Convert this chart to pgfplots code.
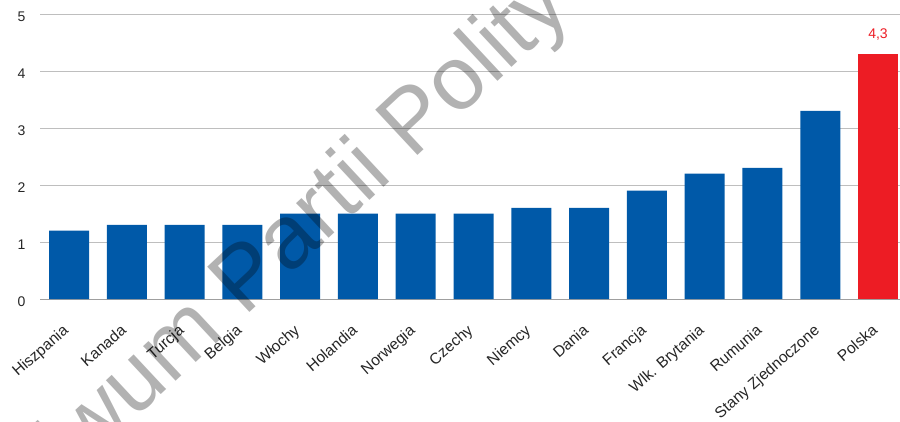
\documentclass[border=0pt]{standalone}
\usepackage{fontspec}
\setmainfont{Liberation Sans}
\usepackage{pgfplots}
\pgfplotsset{compat=1.18}
\definecolor{barblue}{RGB}{0,89,168}
\definecolor{barred}{RGB}{237,28,36}
\definecolor{gridgray}{RGB}{190,190,190}
\pgfplotsset{
  layers/mylayers/.define layer set={axis background,axis grid,axis ticks,axis lines,pre main,main,axis tick labels,axis descriptions,axis foreground}{},
}
\begin{document}
\begin{tikzpicture}
\begin{axis}[
  name=ax,
  set layers=mylayers,
  scale only axis,
  width=860bp, height=285bp,
  xmin=-0.502, xmax=14.38,
  ymin=0, ymax=5,
  clip=false,
  ybar, bar shift=0pt, bar width=0.692,
  axis x line*=bottom,
  axis y line*=left,
  x axis line style={draw=gray!75, line width=1bp, -},
  y axis line style={draw=none},
  major tick length=0pt,
  xtick={0,...,14},
  xticklabels={Hiszpania,Kanada,Turcja,Belgia,Włochy,Holandia,Norwegia,Czechy,Niemcy,Dania,Francja,Wlk. Brytania,Rumunia,Stany Zjednoczone,Polska},
  x tick label style={xshift=-7bp, yshift=-23bp, rotate=41, anchor=north east, font=\fontsize{15.5bp}{18bp}\selectfont, inner sep=1bp, fill=white, text=black!85},
  ytick={0,1,2,3,4,5},
  y tick label style={font=\fontsize{14bp}{16bp}\selectfont, text=black!85, xshift=-11bp, yshift=-3bp},
  /pgf/number format/assume math mode=true,
  ymajorgrids,
  grid style={draw=gridgray, line width=1bp},
]
\addplot[fill=barblue, draw=none] coordinates {
  (0,1.2) (1,1.3) (2,1.3) (3,1.3) (4,1.5) (5,1.5) (6,1.5) (7,1.5)
  (8,1.6) (9,1.6) (10,1.9) (11,2.2) (12,2.3) (13,3.3)
};
\addplot[fill=barred, draw=none] coordinates {(14,4.3)};
\node[anchor=base, text=barred, font=\fontsize{14bp}{16bp}\selectfont, yshift=15bp] at (axis cs:14,4.3) {4,3};
\node[rotate=43, anchor=base west, inner sep=0pt, text=black, opacity=0.3, font=\fontsize{90bp}{100bp}\selectfont] at (axis cs:-2.284,-5.351) {Archiwum Partii Politycznych};
\end{axis}
\pgfresetboundingbox
\path[use as bounding box] ([shift={(-40bp,-123bp)}]ax.south west) rectangle ([shift={(860bp,299bp)}]ax.south west);
\end{tikzpicture}
\end{document}
